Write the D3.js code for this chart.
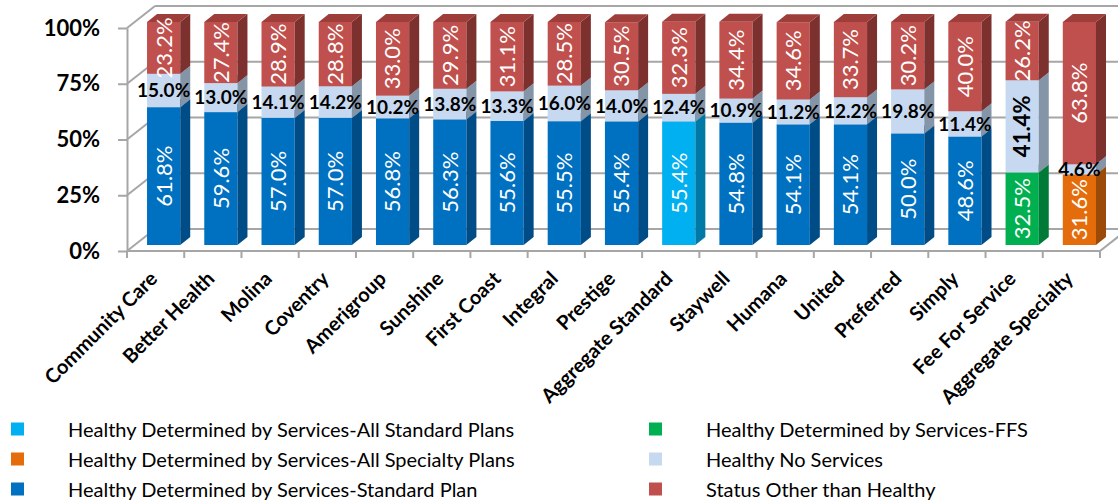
<!DOCTYPE html>
<html>
<head>
<meta charset="utf-8">
<script src="https://cdn.jsdelivr.net/npm/d3@7"></script>
<style>
  body { margin: 0; background: #fff; }
  svg { display: block; font-family: Lato, "Open Sans", sans-serif; }
</style>
</head>
<body>
<div id="chart"></div>
<script>
// categories, left to right
const categories = ["Community Care", "Better Health", "Molina", "Coventry", "Amerigroup",
  "Sunshine", "First Coast", "Integral", "Prestige", "Aggregate Standard", "Staywell",
  "Humana", "United", "Preferred", "Simply", "Fee For Service", "Aggregate Specialty"];

// series values (percent)
const standardPlan = [61.8, 59.6, 57.0, 57.0, 56.8, 56.3, 55.6, 55.5, 55.4, 0, 54.8, 54.1, 54.1, 50.0, 48.6, 0, 0];
const allStandard  = [0, 0, 0, 0, 0, 0, 0, 0, 0, 55.4, 0, 0, 0, 0, 0, 0, 0];
const ffs          = [0, 0, 0, 0, 0, 0, 0, 0, 0, 0, 0, 0, 0, 0, 0, 32.5, 0];
const allSpecialty = [0, 0, 0, 0, 0, 0, 0, 0, 0, 0, 0, 0, 0, 0, 0, 0, 31.6];
const noServices   = [15.0, 13.0, 14.1, 14.2, 10.2, 13.8, 13.3, 16.0, 14.0, 12.4, 10.9, 11.2, 12.2, 19.8, 11.4, 41.4, 4.6];
const otherStatus  = [23.2, 27.4, 28.9, 28.8, 33.0, 29.9, 31.1, 28.5, 30.5, 32.3, 34.4, 34.6, 33.7, 30.2, 40.0, 26.2, 63.8];

const yTicks = [0, 25, 50, 75, 100];

// legend, column by column
const legendLeft = ["Healthy Determined by Services-All Standard Plans",
  "Healthy Determined by Services-All Specialty Plans",
  "Healthy Determined by Services-Standard Plan"];
const legendRight = ["Healthy Determined by Services-FFS", "Healthy No Services", "Status Other than Healthy"];

// colours: front, side, top
const colors = {
  standardPlan: ["#0070C0", "#004C87", "#005A9C"],
  allStandard:  ["#00B0F0", "#0079A6", "#0090C5"],
  ffs:          ["#00B050", "#007A37", "#009043"],
  allSpecialty: ["#E46C0A", "#9C4A07", "#BA5808"],
  noServices:   ["#C6D9F1", "#8595A8", "#A3B3C7"],
  otherStatus:  ["#C0504D", "#7D312F", "#9E3E3B"]
};
const legendColors = {
  "Healthy Determined by Services-All Standard Plans": colors.allStandard[0],
  "Healthy Determined by Services-All Specialty Plans": colors.allSpecialty[0],
  "Healthy Determined by Services-Standard Plan": colors.standardPlan[0],
  "Healthy Determined by Services-FFS": colors.ffs[0],
  "Healthy No Services": colors.noServices[0],
  "Status Other than Healthy": colors.otherStatus[0]
};

const keys = ["standardPlan", "allStandard", "ffs", "allSpecialty", "noServices", "otherStatus"];
const seriesData = { standardPlan, allStandard, ffs, allSpecialty, noServices, otherStatus };
const table = categories.map((c, i) => {
  const row = { category: c };
  keys.forEach(k => row[k] = seriesData[k][i]);
  return row;
});

const width = 1118, height = 504;
const grey = "#A6A6A6";

const svg = d3.select("#chart").append("svg")
  .attr("width", width)
  .attr("height", height);

const x = d3.scaleBand().domain(categories).range([127, 1100]);
const yAxis = d3.scaleLinear().domain([0, 100]).range([251, 28]);
const yBar = d3.scaleLinear().domain([0, 100]).range([245, 22]);

// wall depth and bar depth
const depth = { x: 28, y: -22 };
const barDepth = { x: 10, y: -8 };
const barOffset = x.bandwidth() * 0.35;
const barWidth = x.bandwidth() * 0.58;

// back wall gridlines and side wall diagonals
const walls = svg.append("g").attr("stroke", grey).attr("stroke-width", 2).attr("fill", "none");
yTicks.forEach(t => {
  const y0 = yAxis(t);
  walls.append("line")
    .attr("x1", 127).attr("y1", y0)
    .attr("x2", 127 + depth.x).attr("y2", y0 + depth.y);
  walls.append("line")
    .attr("x1", 127 + depth.x).attr("y1", y0 + depth.y)
    .attr("x2", 1100 + depth.x).attr("y2", y0 + depth.y);
});
// right floor edge
walls.append("line")
  .attr("x1", 1100).attr("y1", yAxis(0))
  .attr("x2", 1100 + depth.x).attr("y2", yAxis(0) + depth.y);

// bars
const stack = d3.stack().keys(keys);
const stacked = stack(table);

const barsG = svg.append("g");
table.forEach((row, i) => {
  const g = barsG.append("g");
  const bx = x(row.category) + barOffset;
  stacked.forEach(s => {
    const d = s[i];
    if (d[1] - d[0] <= 0) return;
    const c = colors[s.key];
    const yt = yBar(d[1]), yb = yBar(d[0]);
    // front
    g.append("rect")
      .attr("x", bx).attr("y", yt)
      .attr("width", barWidth).attr("height", yb - yt)
      .attr("fill", c[0]);
    // side
    g.append("path")
      .attr("d", `M${bx + barWidth},${yb} L${bx + barWidth + barDepth.x},${yb + barDepth.y} L${bx + barWidth + barDepth.x},${yt + barDepth.y} L${bx + barWidth},${yt} Z`)
      .attr("fill", c[1]);
    // top
    g.append("path")
      .attr("d", `M${bx},${yt} L${bx + barDepth.x},${yt + barDepth.y} L${bx + barWidth + barDepth.x},${yt + barDepth.y} L${bx + barWidth},${yt} Z`)
      .attr("fill", c[2]);
  });
});

// front axis lines
const yAx = svg.append("g")
  .attr("transform", "translate(127,0)")
  .call(d3.axisLeft(yAxis).tickValues(yTicks).tickFormat(d => d + "%").tickSize(9).tickSizeOuter(0).tickPadding(18));
yAx.selectAll("path, line").attr("stroke", grey).attr("stroke-width", 2);
yAx.selectAll("text")
  .attr("fill", "#000")
  .style("font-family", "Lato, sans-serif")
  .style("font-size", "22px")
  .style("font-weight", "bold");

const floor = svg.append("g").attr("stroke", grey).attr("stroke-width", 2);
floor.append("line")
  .attr("x1", 127).attr("y1", yAxis(0))
  .attr("x2", 1100).attr("y2", yAxis(0));
categories.forEach(c => {
  floor.append("line")
    .attr("x1", x(c) + x.bandwidth()).attr("y1", yAxis(0))
    .attr("x2", x(c) + x.bandwidth()).attr("y2", yAxis(0) + 7);
});
floor.append("line")
  .attr("x1", 127).attr("y1", yAxis(0))
  .attr("x2", 127).attr("y2", yAxis(0) + 7);

// category labels
svg.append("g").selectAll("text")
  .data(categories)
  .join("text")
  .attr("transform", d => `translate(${x(d) + x.bandwidth() / 2 + 3},280) rotate(-45)`)
  .attr("text-anchor", "end")
  .style("font-size", "20px")
  .style("font-weight", "bold")
  .text(d => d);

// data labels: light blue ones are flat unless the segment is tall
const labelsG = svg.append("g");
table.forEach((row, i) => {
  const cx = x(row.category) + barOffset + barWidth / 2;
  stacked.forEach(s => {
    const d = s[i];
    const v = seriesData[s.key][i];
    if (!(v > 0)) return;
    const cy = (yBar(d[0]) + yBar(d[1])) / 2;
    const isLight = s.key === "noServices";
    const flat = isLight && v < 30;
    const g = labelsG.append("g")
      .attr("transform", `translate(${cx},${cy})`);
    g.append("text")
      .attr("transform", flat ? null : "rotate(-90)")
      .attr("text-anchor", "middle")
      .attr("dy", "0.36em")
      .style("font-size", flat ? "19px" : "22px")
      .style("font-weight", isLight ? "bold" : "normal")
      .attr("fill", isLight ? "#000" : "#fff")
      .text(v.toFixed(1) + "%");
  });
});

// legend
function drawLegend(items, sx, tx) {
  const g = svg.append("g");
  items.forEach((name, i) => {
    const cy = 429 + i * 30;
    g.append("rect")
      .attr("x", sx).attr("y", cy - 6.5)
      .attr("width", 13).attr("height", 13)
      .attr("fill", legendColors[name]);
    g.append("text")
      .attr("x", tx).attr("y", cy)
      .attr("dominant-baseline", "central")
      .style("font-size", "20px")
      .attr("fill", "#000")
      .text(name);
  });
}
drawLegend(legendLeft, 11, 68);
drawLegend(legendRight, 649, 706);
</script>
</body>
</html>
